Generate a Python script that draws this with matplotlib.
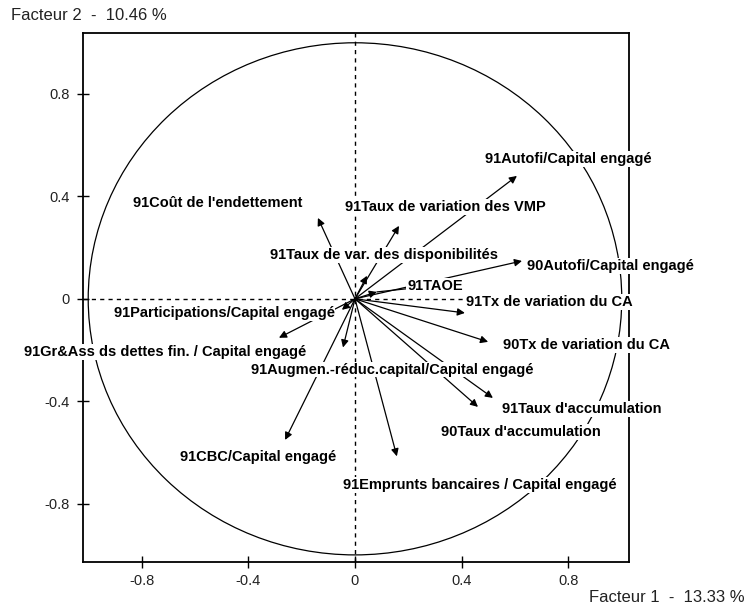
import matplotlib
matplotlib.use("Agg")
import matplotlib.pyplot as plt
from matplotlib.patches import Circle

plt.rcParams['font.family'] = ['Liberation Sans', 'DejaVu Sans']
plt.rcParams['axes.unicode_minus'] = False

variables = [
    "91Autofi/Capital engagé",
    "91Taux de variation des VMP",
    "91Coût de l'endettement",
    "91Taux de var. des disponibilités",
    "91TAOE",
    "90Autofi/Capital engagé",
    "91Tx de variation du CA",
    "90Tx de variation du CA",
    "91Augmen.-réduc.capital/Capital engagé",
    "91Participations/Capital engagé",
    "91Gr&Ass ds dettes fin. / Capital engagé",
    "91CBC/Capital engagé",
    "91Emprunts bancaires / Capital engagé",
    "91Taux d'accumulation",
    "90Taux d'accumulation",
]
factor1 = [0.607, 0.165, -0.139, 0.045, 0.082, 0.626, 0.412, 0.499, -0.045,
           -0.049, -0.285, -0.262, 0.157, 0.517, 0.461]
factor2 = [0.480, 0.285, 0.316, 0.090, 0.027, 0.148, -0.055, -0.168, -0.190,
           -0.043, -0.152, -0.551, -0.615, -0.387, -0.422]

# label placement (centre of each label, in factor coordinates)
label_x = [0.799, 0.337, -0.514, 0.109, 0.300, 0.956, 0.727, 0.866, 0.139,
           -0.491, -0.712, -0.364, 0.469, 0.851, 0.622]
label_y = [0.547, 0.359, 0.375, 0.172, 0.051, 0.129, -0.012, -0.180, -0.277,
           -0.055, -0.207, -0.617, -0.727, -0.430, -0.520]

ticks = [-0.8, -0.4, 0, 0.4, 0.8]
tick_labels = ["-0.8", "-0.4", "0", "0.4", "0.8"]

xlabel = "Facteur 1  -  13.33 %"
ylabel = "Facteur 2  -  10.46 %"

fig = plt.figure(figsize=(7.51, 6.12), dpi=100)
ax = fig.add_axes([0.110, 0.082, 0.7275, 0.864])
ax.set_xlim(-1.021, 1.027)
ax.set_ylim(-1.027, 1.038)

for sp in ax.spines.values():
    sp.set_linewidth(1.3)

ax.set_xticks(ticks)
ax.set_xticklabels(tick_labels)
ax.set_yticks(ticks)
ax.set_yticklabels(tick_labels)
ax.tick_params(direction='inout', length=8, width=1, labelsize=10.5, pad=5,
               labelcolor='#222222')

# reference lines
ax.axhline(0, color='black', lw=1, ls=(0, (3, 3)), zorder=1)
ax.axvline(0, color='black', lw=1, ls=(0, (3, 3)), zorder=1)

# correlation circle
ax.add_patch(Circle((0, 0), 1.0, fill=False, ec='black', lw=0.9, zorder=1))

# arrows
for fx, fy in zip(factor1, factor2):
    ax.annotate("", xy=(fx, fy), xytext=(0, 0),
                arrowprops=dict(arrowstyle='-|>', color='black', lw=0.9,
                                mutation_scale=11, shrinkA=0, shrinkB=0),
                zorder=2)

# labels with white background
for name, lx, ly, fx, fy in zip(variables, label_x, label_y, factor1, factor2):
    if name == "91TAOE":
        ax.annotate(name, xy=(fx, fy), xytext=(lx, ly),
                    ha='center', va='center', fontsize=10.5, fontweight='bold',
                    bbox=dict(boxstyle='square,pad=0.05', fc='white', ec='none'),
                    arrowprops=dict(arrowstyle='-', color='black', lw=0.9,
                                    shrinkA=0, shrinkB=0),
                    zorder=4)
    else:
        ax.text(lx, ly, name, ha='center', va='center', fontsize=10.5,
                fontweight='bold',
                bbox=dict(boxstyle='square,pad=0.05', fc='white', ec='none'),
                zorder=4)

fig.text(0.015, 0.975, ylabel, ha='left', va='center', fontsize=12,
         color='#222222')
fig.text(0.992, 0.023, xlabel, ha='right', va='center', fontsize=12,
         color='#222222')

fig.savefig("out.png", dpi=100)
